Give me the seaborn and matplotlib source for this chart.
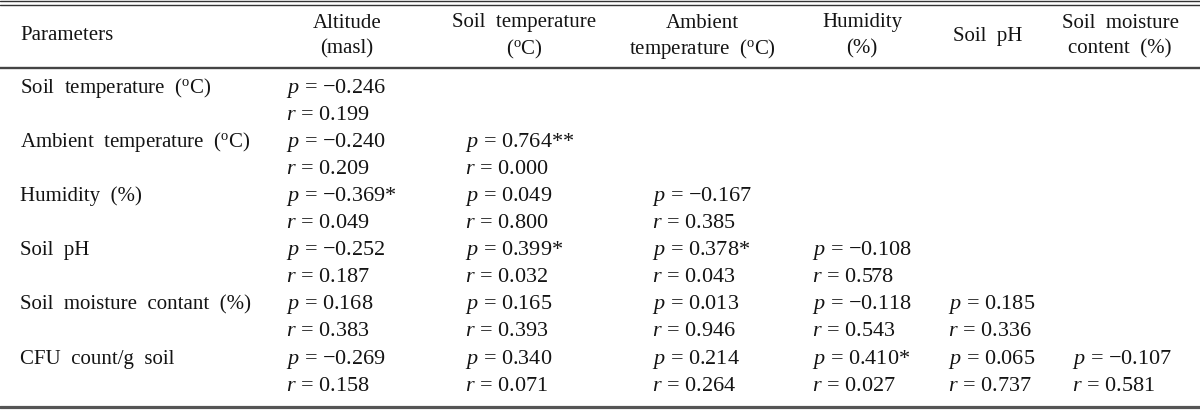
import matplotlib
matplotlib.use("Agg")
import matplotlib.pyplot as plt
import seaborn as sns

# ---------------- data ----------------
row_labels = ["Soil  temperature  (DEG)", "Ambient  temperature  (DEG)", "Humidity  (%)",
              "Soil  pH", "Soil  moisture  contant  (%)", "CFU  count/g  soil"]
col_headers = [["Altitude", "(masl)"], ["Soil  temperature", "(DEG)"],
               ["Ambient", "temperature  (DEG)"], ["Humidity", "(%)"],
               ["Soil  pH"], ["Soil  moisture", "content  (%)"]]
p_values = [[-0.246],
            [-0.240, 0.764],
            [-0.369, 0.049, -0.167],
            [-0.252, 0.399, 0.378, -0.108],
            [0.168, 0.165, 0.013, -0.118, 0.185],
            [-0.269, 0.340, 0.214, 0.410, 0.065, -0.107]]
p_sig = [[""],
         ["", "**"],
         ["*", "", ""],
         ["", "*", "*", ""],
         ["", "", "", "", ""],
         ["", "", "", "*", "", ""]]
r_values = [[0.199],
            [0.209, 0.000],
            [0.049, 0.800, 0.385],
            [0.187, 0.032, 0.043, 0.578],
            [0.383, 0.393, 0.946, 0.543, 0.336],
            [0.158, 0.071, 0.264, 0.027, 0.737, 0.581]]

# ---------------- style ----------------
sns.set_theme(style="white")
plt.rcParams["font.family"] = ["Liberation Serif", "DejaVu Serif"]
plt.rcParams["mathtext.fontset"] = "custom"
plt.rcParams["mathtext.rm"] = "Liberation Serif"
plt.rcParams["mathtext.it"] = "Liberation Serif:italic"
plt.rcParams["mathtext.bf"] = "Liberation Serif:bold"

DEG = r"($^{\mathrm{o}}$C)"
FS = 15
FS_DATA = 16
TXT = "#141414"

fig = plt.figure(figsize=(12, 4.15), dpi=100)
ax = fig.add_axes([0, 0, 1, 1])
ax.set_xlim(0, 1200)
ax.set_ylim(415, 0)
ax.axis("off")

def fmt(v):
    s = f"{abs(v):.3f}"
    return ("\u2212" + s) if v < 0 else s

# layout
label_x = 20
col_centers = [347, 524, 702, 862, 988, 1120]
col_left = [286, 465, 652, 812, 948, 1072]
y0, dy = 88, 27.1
hdr_y = [23, 49]

# rules
ax.axhline(1.5, color="#333333", lw=1.0)
ax.axhline(5.0, color="#333333", lw=1.0)
ax.axhline(68, color="#444444", lw=1.7)
ax.axhline(407, color="#555555", lw=2.3)

# header
ax.text(label_x, 36, "Parameters", fontsize=FS, color=TXT, ha="left", va="center")
for c, lines in enumerate(col_headers):
    if len(lines) == 1:
        ax.text(col_centers[c], 36, lines[0].replace("(DEG)", DEG), fontsize=FS,
                color=TXT, ha="center", va="center")
    else:
        for k, ln in enumerate(lines):
            ax.text(col_centers[c], hdr_y[k], ln.replace("(DEG)", DEG), fontsize=FS,
                    color=TXT, ha="center", va="center")

# body
for i, lab in enumerate(row_labels):
    yp = y0 + 2 * i * dy
    yr = yp + dy
    ax.text(label_x, yp, lab.replace("(DEG)", DEG), fontsize=FS, color=TXT,
            ha="left", va="center")
    for j, (pv, sg, rv) in enumerate(zip(p_values[i], p_sig[i], r_values[i])):
        ax.text(col_left[j], yp, r"$p$ = " + fmt(pv) + sg, fontsize=FS_DATA, color=TXT,
                ha="left", va="center")
        ax.text(col_left[j], yr, r"$r$ = " + fmt(rv), fontsize=FS_DATA, color=TXT,
                ha="left", va="center")

fig.savefig("out.png", dpi=100, facecolor="white")
